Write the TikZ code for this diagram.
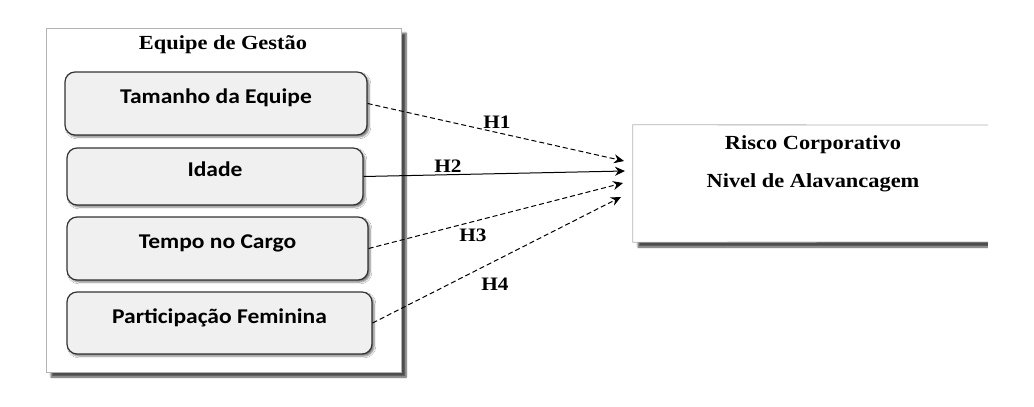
\documentclass[tikz,border=0pt]{standalone}
\usepackage{fontspec}
\setmainfont[FakeStretch=1.12]{Liberation Serif}
\newfontfamily\boxfont[FakeStretch=1.12]{Carlito}
\usetikzlibrary{arrows.meta,shadows.blur}
\begin{document}
\begin{tikzpicture}[x=1pt,y=-1pt,
  outerbox/.style={draw=black!30,line width=0.8pt,fill=white,
    blur shadow={shadow xshift=5pt,shadow yshift=-5pt,shadow blur steps=6,shadow opacity=70}},
  itembox/.style={draw=black!80,line width=1.2pt,fill=black!6,rounded corners=10pt,
    text height=0pt,text depth=0pt,
    font=\boxfont\bfseries\fontsize{21}{23}\selectfont,
    blur shadow={shadow xshift=2pt,shadow yshift=-2pt,shadow blur steps=4,shadow opacity=55}},
  titletext/.style={font=\bfseries\fontsize{20}{22}\selectfont,inner sep=0pt},
  hlabel/.style={font=\bfseries\fontsize{19}{21}\selectfont,inner sep=0pt},
  link/.style={line width=1pt,-{Stealth[length=10pt,width=9pt]}},
  dlink/.style={link,dash pattern=on 5pt off 3pt}]
\useasboundingbox (0,0) rectangle (1034,407);
% outer box
\node[outerbox,minimum width=355pt,minimum height=344pt,inner sep=0pt] (outer) at (223.5,200) {};
\node[titletext] (title) at (223,45) {Equipe de Gestão};
% items
\node[itembox,minimum width=302pt,minimum height=63pt] (b1) at (216,103.5) {Tamanho da Equipe};
\node[itembox,minimum width=296pt,minimum height=57pt] (b2) at (215,176.5) {Idade};
\node[itembox,minimum width=301pt,minimum height=63pt] (b3) at (217.5,248.5) {Tempo no Cargo};
\node[itembox,minimum width=305pt,minimum height=62pt] (b4) at (219.5,323) {Participação Feminina};
% right box
\node[fill=white,minimum width=380pt,minimum height=117pt,inner sep=0pt,
  blur shadow={shadow xshift=5pt,shadow yshift=-5pt,shadow blur steps=6,shadow opacity=70}] (rc) at (823,183.5) {};
\fill[white] (988,100) rectangle (1034,280);
\draw[black!30,line width=0.8pt] (988,125) -- (rc.north west) -- (rc.south west) -- (988,242);
\node[titletext] (rc1) at (813,145) {Risco Corporativo};
\node[titletext] (rc2) at (813,183) {Nivel de Alavancagem};
% arrow targets
\coordinate (t1) at (624,161);
\coordinate (t2) at (625,171);
\coordinate (t3) at (623,183);
\coordinate (t4) at (621,197);
\draw[dlink] (b1.east) -- (t1);
\draw[link] (b2.east) -- (t2);
\draw[dlink] (b3.east) -- (t3);
\draw[dlink] (b4.east) -- (t4);
\node[hlabel] (h1) at (497,122) {H1};
\node[hlabel] (h2) at (448,166) {H2};
\node[hlabel] (h3) at (473,235) {H3};
\node[hlabel] (h4) at (495,284) {H4};
\end{tikzpicture}
\end{document}
